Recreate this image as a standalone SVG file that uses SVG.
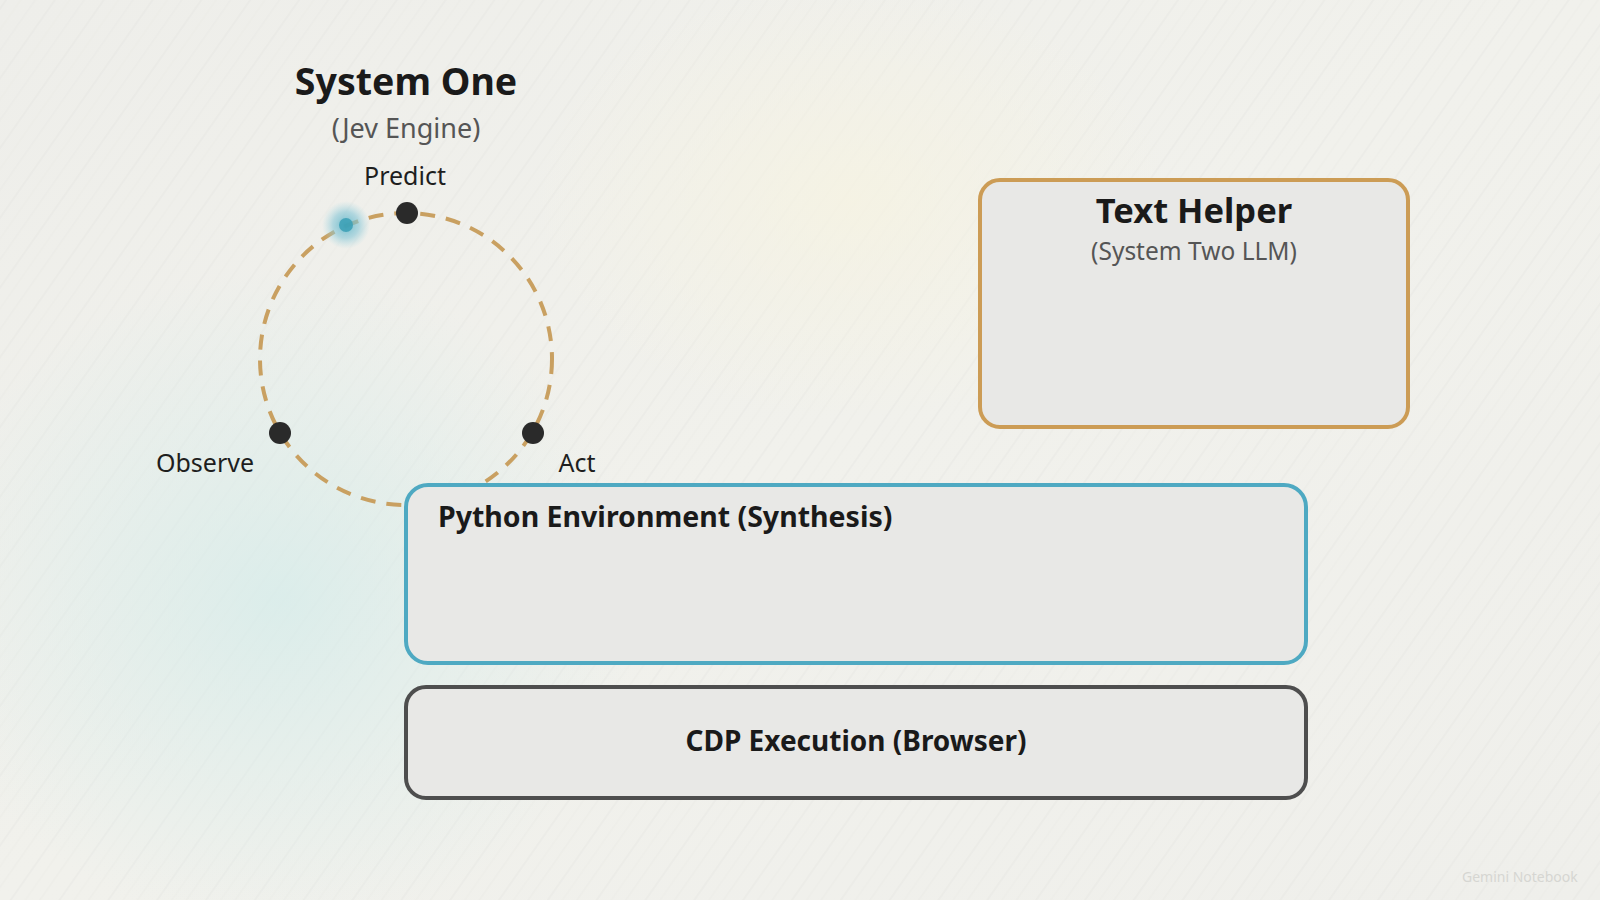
<svg xmlns="http://www.w3.org/2000/svg" width="1600" height="900" viewBox="0 0 1600 900">
  <defs>
    <linearGradient id="bg" x1="0" y1="0" x2="1" y2="1">
      <stop offset="0" stop-color="#EEEEEA"/>
      <stop offset="0.5" stop-color="#F1F1EC"/>
      <stop offset="1" stop-color="#EFEFEB"/>
    </linearGradient>
    <radialGradient id="tealGlow" cx="0.5" cy="0.5" r="0.5">
      <stop offset="0" stop-color="#D6ECEA" stop-opacity="0.8"/>
      <stop offset="1" stop-color="#D6ECEA" stop-opacity="0"/>
    </radialGradient>
    <radialGradient id="warmGlow" cx="0.5" cy="0.5" r="0.5">
      <stop offset="0" stop-color="#F6F3E2" stop-opacity="0.8"/>
      <stop offset="1" stop-color="#F6F3E2" stop-opacity="0"/>
    </radialGradient>
    <radialGradient id="dotGlow" cx="0.5" cy="0.5" r="0.5">
      <stop offset="0" stop-color="#5AB4C8" stop-opacity="0.85"/>
      <stop offset="0.55" stop-color="#86C6D6" stop-opacity="0.6"/>
      <stop offset="1" stop-color="#A9D8E2" stop-opacity="0"/>
    </radialGradient>
    <pattern id="streaks" width="40" height="40" patternUnits="userSpaceOnUse" patternTransform="rotate(-55)">
      <line x1="0" y1="5" x2="40" y2="5" stroke="#DADAD5" stroke-width="0.7" opacity="0.5"/>
      <line x1="0" y1="17" x2="40" y2="17" stroke="#E2E2DD" stroke-width="0.6" opacity="0.5"/>
      <line x1="0" y1="29" x2="40" y2="29" stroke="#DCDCD7" stroke-width="0.6" opacity="0.4"/>
    </pattern>
    <style>
      .title { font-family: "Noto Sans", "Open Sans", sans-serif; font-weight: 700; fill: #1A1A1A; }
      .sub { font-family: "Noto Sans", "Open Sans", sans-serif; font-weight: 400; fill: #555555; }
      .label { font-family: "Noto Sans", "Open Sans", sans-serif; font-weight: 400; fill: #1E1E1E; font-size: 25px; }
      .box { fill: #E8E8E6; stroke-width: 4; }
      .dot { fill: #2A2A2A; }
    </style>
  </defs>

  <!-- background -->
  <rect width="1600" height="900" fill="url(#bg)"/>
  <rect width="1600" height="900" fill="url(#streaks)"/>
  <ellipse cx="280" cy="600" rx="360" ry="330" fill="url(#tealGlow)"/>
  <ellipse cx="850" cy="200" rx="320" ry="220" fill="url(#warmGlow)"/>

  <!-- title -->
  <g id="system-one">
    <text class="title" x="406" y="95" font-size="37.5" text-anchor="middle">System One</text>
    <text class="sub" x="406" y="138" font-size="27" text-anchor="middle">(Jev Engine)</text>
  </g>

  <!-- connectors: the dashed cycle -->
  <g id="connectors">
    <circle cx="406" cy="359" r="146" fill="none" stroke="#C9A061" stroke-width="4" stroke-dasharray="15 11"/>
  </g>

  <g id="predict">
    <circle class="dot" cx="407" cy="213" r="11"/>
    <text class="label" x="405" y="185" text-anchor="middle">Predict</text>
  </g>
  <g id="observe">
    <circle class="dot" cx="280" cy="433" r="11"/>
    <text class="label" x="205" y="472" text-anchor="middle">Observe</text>
  </g>
  <g id="act">
    <circle class="dot" cx="533" cy="433" r="11"/>
    <text class="label" x="577" y="472" text-anchor="middle">Act</text>
  </g>
  <g id="token">
    <circle cx="346" cy="225" r="24" fill="url(#dotGlow)"/>
    <circle cx="346" cy="225" r="7" fill="#3A9FB5" opacity="0.85"/>
  </g>

  <g id="text-helper">
    <rect class="box" x="980" y="180" width="428" height="247" rx="20" stroke="#CC9C55"/>
    <text class="title" x="1194" y="223" font-size="34.5" text-anchor="middle">Text Helper</text>
    <text class="sub" x="1194" y="260" font-size="24.5" text-anchor="middle">(System Two LLM)</text>
  </g>

  <g id="python-env">
    <rect class="box" x="406" y="485" width="900" height="178" rx="22" stroke="#4EA9C2"/>
    <text class="title" x="438" y="527" font-size="28.5">Python Environment (Synthesis)</text>
  </g>

  <g id="cdp-execution">
    <rect class="box" x="406" y="687" width="900" height="111" rx="20" stroke="#4E4E4E"/>
    <text class="title" x="856" y="751" font-size="28" text-anchor="middle">CDP Execution (Browser)</text>
  </g>

  <text x="1462" y="882" font-family="Noto Sans, sans-serif" font-size="14" fill="#D6D6D2">Gemini Notebook</text>
</svg>
